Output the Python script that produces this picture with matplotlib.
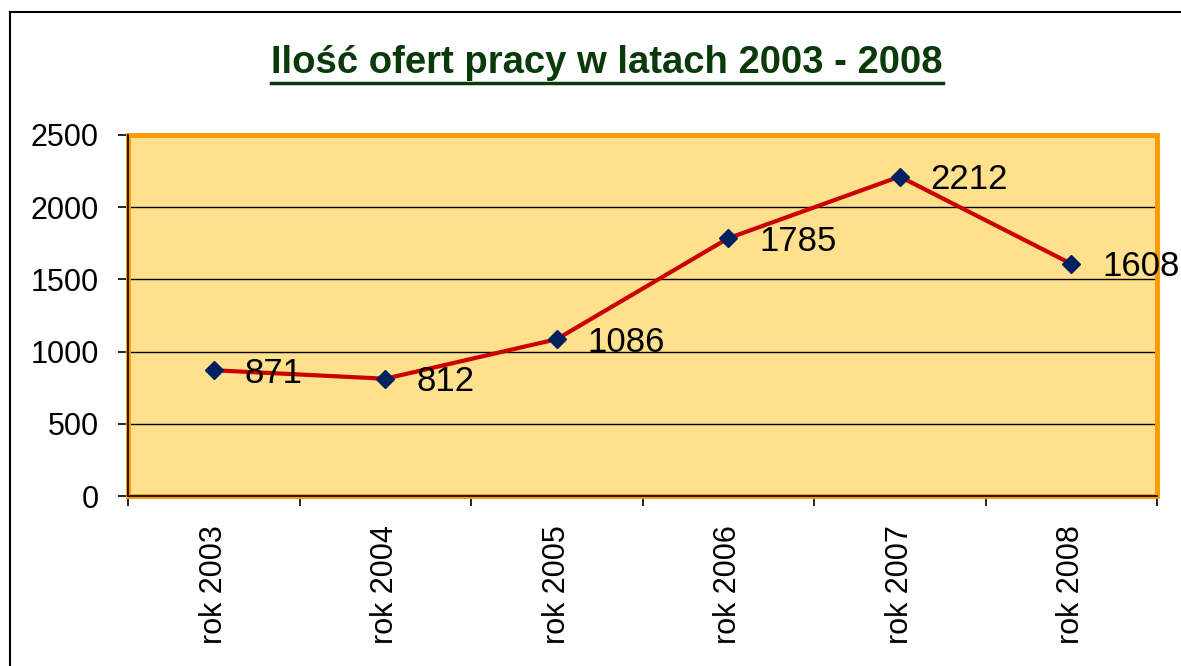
import matplotlib
matplotlib.use('Agg')
import matplotlib.pyplot as plt
from matplotlib.patches import Rectangle
from matplotlib.lines import Line2D
import numpy as np

# Data
years = ['rok 2003', 'rok 2004', 'rok 2005', 'rok 2006', 'rok 2007', 'rok 2008']
offers = [871, 812, 1086, 1785, 2212, 1608]
y_ticks = [0, 500, 1000, 1500, 2000, 2500]

plt.rcParams['font.family'] = ['Liberation Sans', 'DejaVu Sans']

fig = plt.figure(figsize=(11.81, 6.66), dpi=100)
fig.patch.set_facecolor('white')

ax = fig.add_axes([128 / 1181, 1 - 496 / 666, 1029 / 1181, 361 / 666])
ax.set_facecolor('#FFE08C')

x = np.arange(len(years))
ax.plot(x, offers, color='#CC0000', lw=3, zorder=3)
ax.plot(x, offers, linestyle='none', marker='D', markersize=9,
        color='#002060', zorder=4)

for xi, v in zip(x, offers):
    ax.annotate(str(v), (xi, v), xytext=(31, -3), textcoords='offset pixels',
                ha='left', va='center', fontsize=25, color='black',
                annotation_clip=False, zorder=10)

ax.set_xlim(-0.5, len(years) - 0.5)
ax.set_ylim(0, 2500)
ax.set_yticks(y_ticks)
ax.set_yticklabels([str(t) for t in y_ticks], fontsize=22)
ax.set_xticks(x)
ax.set_xticklabels(years, rotation=90, fontsize=22)
ax.set_xticks(np.arange(-0.5, len(years)), minor=True)
ax.tick_params(axis='x', which='major', length=0, pad=21)
ax.tick_params(axis='x', which='minor', length=7, width=1.2, color='black')
ax.tick_params(axis='y', length=7, width=1.2, pad=14)

ax.set_axisbelow(True)
ax.yaxis.grid(True, color='black', lw=1.0)

for s in ['top', 'right']:
    ax.spines[s].set_visible(False)
for s in ['left', 'bottom']:
    ax.spines[s].set_color('black')
    ax.spines[s].set_linewidth(1.2)
    ax.spines[s].set_zorder(6)

frame = Rectangle((0, 0), 1, 1, transform=ax.transAxes, fill=False,
                  edgecolor='#FF9900', lw=3.5, clip_on=False, zorder=2.6)
ax.add_patch(frame)

# outer chart border (only left and top edges visible)
fig.add_artist(Line2D([10 / 1181, 10 / 1181], [0, 1 - 12 / 666], color='black', lw=1.5))
fig.add_artist(Line2D([10 / 1181, 1], [1 - 12 / 666, 1 - 12 / 666], color='black', lw=1.5))

# title with underline
title = fig.text(607 / 1181, 1 - 63 / 666, 'Ilość ofert pracy w latach 2003 - 2008',
                 ha='center', va='center', fontsize=27.5, fontweight='bold',
                 color='#0A3A0A')
fig.canvas.draw()
bb = title.get_window_extent().transformed(fig.transFigure.inverted())
fig.add_artist(Line2D([bb.x0, bb.x1], [bb.y0 - 0.003, bb.y0 - 0.003],
                      color='#0A3A0A', lw=2.5))

fig.savefig('out.png', dpi=100)
